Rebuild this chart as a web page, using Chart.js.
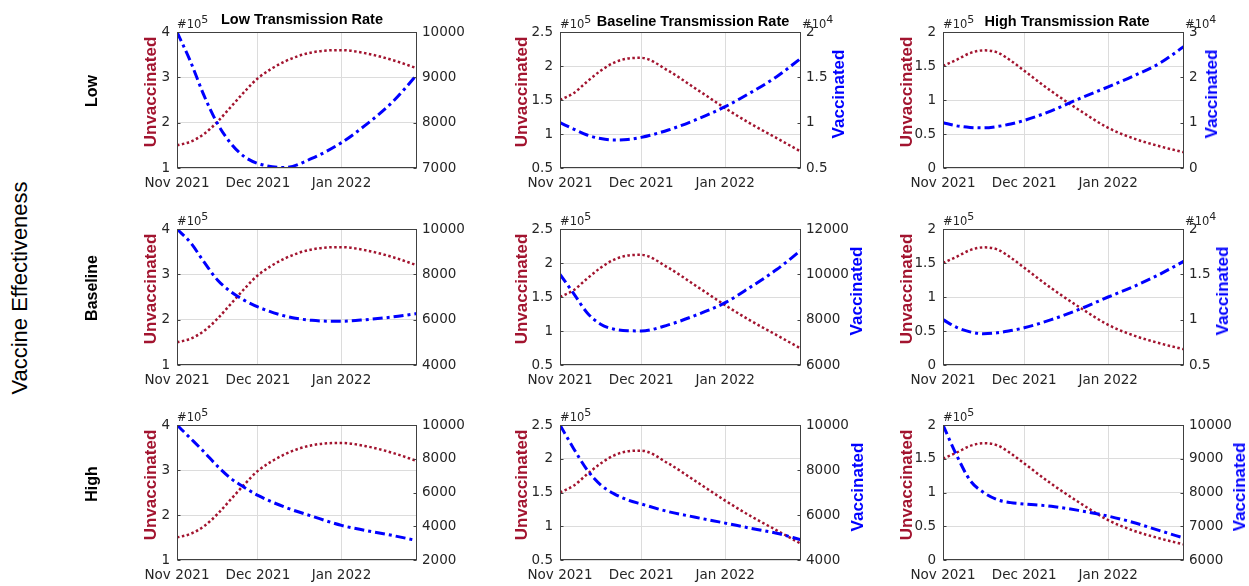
<!DOCTYPE html>
<html>
<head>
<meta charset="utf-8">
<script src="https://cdn.jsdelivr.net/npm/chart.js@4.4.0/dist/chart.umd.min.js"></script>
<style>
  body { margin: 0; background: #fff; width: 1249px; height: 586px; overflow: hidden; position: relative; font-family: "Liberation Sans", Arial, sans-serif; }
  canvas { position: absolute; }
  .lbl { position: absolute; white-space: nowrap; transform: translate(-50%, -50%) rotate(-90deg); font-weight: bold; }
  .ttl { position: absolute; white-space: nowrap; transform: translate(-50%, -50%); font-weight: bold; font-size: 14.5px; color: #000; }
  .exp { position: absolute; font-family: "DejaVu Sans"; font-size: 11.5px; line-height: 14px; color: #262626; white-space: nowrap; }
  .exp sup { font-size: 11px; vertical-align: 0; position: relative; top: -5px; }
</style>
</head>
<body>
<script>
// days since 1 Nov 2021
const days = [0, 5, 10, 15, 20, 25, 30, 40, 50, 61, 70, 80, 89];
const xTickValues = [0, 30, 61];
const xTickLabels = ["Nov 2021", "Dec 2021", "Jan 2022"];
const colTitles = ["Low Transmission Rate", "Baseline Transmission Rate", "High Transmission Rate"];
const rowLabels = ["Low", "Baseline", "High"];

// unvaccinated, one curve per transmission rate (same in every row)
const unvacLow  = [150000, 158000, 175000, 202000, 235000, 268000, 298000, 335000, 355000, 360000, 353000, 338000, 320000];
const unvacBase = [150000, 160000, 177000, 193000, 205000, 211000, 212000, 193000, 167000, 138000, 116000, 94000, 74000];
const unvacHigh = [150000, 159000, 169000, 173000, 170000, 158000, 143000, 113000, 86000, 59000, 44000, 32000, 23000];

// vaccinated: effectiveness (row) x transmission (col)
const vacLowLow   = [10000, 9350, 8600, 7980, 7540, 7250, 7100, 7010, 7210, 7560, 7950, 8460, 9060];
const vacLowBase  = [10000, 9300, 8640, 8250, 8090, 8150, 8380, 9190, 10300, 11760, 13240, 15070, 17100];
const vacLowHigh  = [10000, 9300, 8950, 8850, 9150, 9700, 10500, 12600, 15200, 17900, 20200, 23100, 26800];
const vacBaseLow  = [10000, 9400, 8550, 7750, 7230, 6850, 6560, 6160, 5970, 5930, 6000, 6120, 6270];
const vacBaseBase = [10000, 9160, 8310, 7800, 7580, 7510, 7505, 7770, 8190, 8750, 9410, 10210, 11060];
const vacBaseHigh = [10000, 9150, 8650, 8450, 8550, 8800, 9100, 10000, 11100, 12500, 13600, 15000, 16450];
const vacHighLow  = [10000, 9210, 8410, 7560, 6830, 6300, 5830, 5130, 4600, 4050, 3750, 3450, 3150];
const vacHighBase = [10000, 8960, 8010, 7340, 6940, 6670, 6490, 6150, 5900, 5640, 5420, 5190, 4900];
const vacHighHigh = [10000, 9110, 8360, 8000, 7790, 7700, 7660, 7590, 7470, 7300, 7120, 6870, 6650];

const unvacSeries = [unvacLow, unvacBase, unvacHigh];
const vacSeries = [
  [vacLowLow, vacLowBase, vacLowHigh],
  [vacBaseLow, vacBaseBase, vacBaseHigh],
  [vacHighLow, vacHighBase, vacHighHigh],
];

// axis limits
const leftAxes = [
  { min: 100000, max: 400000, step: 100000 },
  { min: 50000, max: 250000, step: 50000 },
  { min: 0, max: 200000, step: 50000 },
];
const rightAxes = [
  [{ min: 7000, max: 10000, step: 1000 }, { min: 5000, max: 20000, step: 5000, exp: 4 }, { min: 0, max: 30000, step: 10000, exp: 4 }],
  [{ min: 4000, max: 10000, step: 2000 }, { min: 6000, max: 12000, step: 2000 }, { min: 5000, max: 20000, step: 5000, exp: 4 }],
  [{ min: 2000, max: 10000, step: 2000 }, { min: 4000, max: 10000, step: 2000 }, { min: 6000, max: 10000, step: 1000 }],
];

// layout of plot boxes
const colX = [[177, 417], [560, 801], [943, 1184]];
const rowY = [[32, 168], [229, 365], [425, 560]];
const unvacLabelX = [151, 522, 907];
const vacLabelX = [[null, 839, 1212], [null, 857, 1223], [null, 858, 1240]];
const titlePos = [[302, 18.5], [693, 21], [1067, 21]];

const RED = "#A2142F";
const BLUE = "#0000FF";

Chart.defaults.font.family = "DejaVu Sans";
Chart.defaults.font.size = 13.5;
Chart.defaults.color = "#262626";

function fmt(v, exp) {
  const x = exp ? v / Math.pow(10, exp) : v;
  return String(Math.round(x * 100) / 100);
}

const framePlugin = {
  id: "frame",
  afterDraw(chart) {
    const { ctx, chartArea: a } = chart;
    const l = Math.round(a.left) + 0.5, r = Math.round(a.right) - 0.5;
    const t = Math.round(a.top) + 0.5, b = Math.round(a.bottom) - 0.5;
    ctx.save();
    ctx.strokeStyle = "#404040";
    ctx.lineWidth = 1;
    ctx.strokeRect(l, t, r - l, b - t);
    ctx.beginPath();
    chart.scales.y1.ticks.forEach(tk => {
      const y = Math.round(chart.scales.y1.getPixelForValue(tk.value)) + 0.5;
      ctx.moveTo(r, y); ctx.lineTo(r - 3, y);
    });
    chart.scales.y.ticks.forEach(tk => {
      const y = Math.round(chart.scales.y.getPixelForValue(tk.value)) + 0.5;
      ctx.moveTo(l, y); ctx.lineTo(l + 3, y);
    });
    ctx.stroke();
    ctx.restore();
  }
};

function addDiv(cls, html, x, y, style) {
  const d = document.createElement("div");
  d.className = cls;
  d.innerHTML = html;
  d.style.left = x + "px";
  d.style.top = y + "px";
  if (style) Object.assign(d.style, style);
  document.body.appendChild(d);
}

const L = 50, R = 60, T = 20, B = 26;

for (let r = 0; r < 3; r++) {
  for (let c = 0; c < 3; c++) {
    const [x0, x1] = colX[c];
    const [y0, y1] = rowY[r];
    const cv = document.createElement("canvas");
    cv.width = x1 - x0 + L + R;
    cv.height = y1 - y0 + T + B;
    cv.style.left = (x0 - L) + "px";
    cv.style.top = (y0 - T) + "px";
    document.body.appendChild(cv);

    const la = leftAxes[c];
    const ra = rightAxes[r][c];

    new Chart(cv.getContext("2d"), {
      type: "line",
      data: {
        datasets: [
          {
            label: "Vaccinated",
            data: days.map((d, i) => ({ x: d, y: vacSeries[r][c][i] })),
            yAxisID: "y1",
            borderColor: BLUE,
            borderWidth: 3,
            borderDash: [10, 4, 3, 4],
            pointRadius: 0,
            cubicInterpolationMode: "monotone",
          },
          {
            label: "Unvaccinated",
            data: days.map((d, i) => ({ x: d, y: unvacSeries[c][i] })),
            yAxisID: "y",
            borderColor: RED,
            borderWidth: 2.5,
            borderDash: [2.5, 2.5],
            pointRadius: 0,
            cubicInterpolationMode: "monotone",
          },
        ],
      },
      options: {
        responsive: false,
        animation: false,
        devicePixelRatio: 1,
        layout: { padding: { top: T, left: 0, right: 0, bottom: 0 } },
        plugins: { legend: { display: false }, tooltip: { enabled: false } },
        scales: {
          x: {
            type: "linear",
            min: 0,
            max: 89,
            afterBuildTicks: s => { s.ticks = xTickValues.map(v => ({ value: v })); },
            afterFit: s => { s.height = B; },
            ticks: {
              autoSkip: false,
              maxRotation: 0,
              padding: 7,
              callback: v => xTickLabels[xTickValues.indexOf(v)],
            },
            grid: { color: "#dcdcdc", drawTicks: false },
            border: { display: false },
          },
          y: {
            position: "left",
            min: la.min,
            max: la.max,
            afterFit: s => { s.width = L; },
            ticks: { stepSize: la.step, padding: 7, callback: v => fmt(v, 5) },
            grid: { color: "#dcdcdc", drawTicks: false },
            border: { display: false },
          },
          y1: {
            position: "right",
            min: ra.min,
            max: ra.max,
            afterFit: s => { s.width = R; },
            ticks: { stepSize: ra.step, padding: 5, callback: v => fmt(v, ra.exp) },
            grid: { display: false, drawTicks: false },
            border: { display: false },
          },
        },
      },
      plugins: [framePlugin],
    });

    // axis labels and exponent markers
    const cy = (y0 + y1) / 2;
    addDiv("lbl", "Unvaccinated", unvacLabelX[c], cy - 8, { color: RED, fontSize: "17px" });
    if (vacLabelX[r][c] !== null) {
      addDiv("lbl", "Vaccinated", vacLabelX[r][c], cy - 6, { color: BLUE, fontSize: "17px" });
    }
    addDiv("exp", "#10<sup>5</sup>", x0, y0 - 15);
    if (ra.exp) addDiv("exp", "#10<sup>" + ra.exp + "</sup>", x1 + 1, y0 - 15);
  }
}

colTitles.forEach((t, c) => addDiv("ttl", t, titlePos[c][0], titlePos[c][1]));
rowLabels.forEach((t, r) => {
  const cy = (rowY[r][0] + rowY[r][1]) / 2;
  addDiv("lbl", t, 92, cy - 9, { fontSize: "16px", color: "#000" });
});
addDiv("lbl", "Vaccine Effectiveness", 20, 288, { fontSize: "22px", fontWeight: "normal", color: "#000" });
</script>
</body>
</html>
